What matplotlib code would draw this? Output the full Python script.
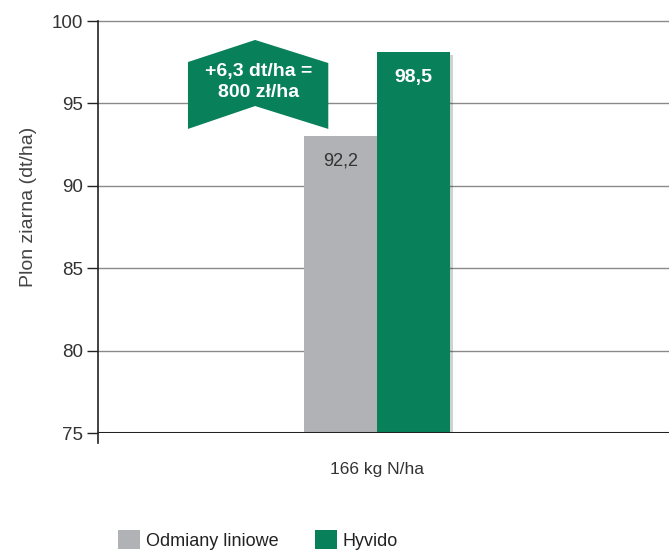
#importing libraries
import matplotlib
matplotlib.use('Agg')
import matplotlib.pyplot as plt
from matplotlib.patches import Polygon, Patch
from matplotlib import patheffects as pe

#data
categories = ['166 kg N/ha']
series_names = ['Odmiany liniowe', 'Hyvido']
bar_heights = [93.0, 98.1]
value_labels = ['92,2', '98,5']
yticks = [75, 80, 85, 90, 95, 100]
gain_text = '+6,3 dt/ha =\n800 zł/ha'

colors = ['#b1b2b5', '#08805a']
label_colors = ['#333333', 'white']
label_weights = ['normal', 'bold']
label_sizes = [13, 14]

plt.rcParams['font.family'] = ['Liberation Sans', 'DejaVu Sans']

fig = plt.figure(figsize=(6.69, 5.52), dpi=100)
ax = fig.add_axes([98 / 669, 1 - 433 / 552, 571 / 669, 412 / 552])

base = 75
width = 0.4
offsets = [-width / 2, width / 2]
for i in range(len(series_names)):
    bars = ax.bar(0 + offsets[i], bar_heights[i] - base, width=width, bottom=base,
                  color=colors[i], zorder=3)
    for b in bars:
        b.set_path_effects([pe.SimplePatchShadow(offset=(2, -2), alpha=0.2), pe.Normal()])
        ax.annotate(value_labels[i], (b.get_x() + b.get_width() / 2, b.get_y() + b.get_height()),
                    xytext=(0, -18), textcoords='offset points', ha='center', va='center',
                    fontsize=label_sizes[i], color=label_colors[i],
                    fontweight=label_weights[i], zorder=4)

ax.set_xlim(-1.529, 1.600)
ax.set_ylim(75, 100)
ax.set_yticks(yticks)
ax.set_xticks([0])
ax.set_xticklabels(categories)
ax.tick_params(axis='x', length=0, pad=21, labelsize=12.5, labelcolor='#333333')
ax.tick_params(axis='y', length=8, width=1, color='#222222', labelsize=13.5,
               labelcolor='#333333', pad=3)
ax.set_ylabel('Plon ziarna (dt/ha)', fontsize=14, color='#444444')
ax.yaxis.set_label_coords(-0.107, 0.549)

for v in yticks[1:]:
    ax.axhline(v, color='#8a8a8a', lw=1, zorder=1, clip_on=False)
ax.axhline(75, color='#222222', lw=2.2, zorder=5)

for s in ['top', 'right', 'bottom']:
    ax.spines[s].set_visible(False)
ax.spines['left'].set_color('#222222')
ax.spines['left'].set_linewidth(1.2)
ax.spines['left'].set_bounds(74.4, 100)

#arrow-like badge with the gain
xl, xm, xr = -1.036, -0.668, -0.267
badge = Polygon([(xl, 93.45), (xl, 97.51), (xm, 98.85), (xr, 97.45),
                 (xr, 93.45), (xm, 94.84)], closed=True,
                facecolor='#08805a', edgecolor='none', zorder=4)
ax.add_patch(badge)
ax.text(xm + 0.02, 96.3, gain_text, ha='center', va='center', fontsize=14,
        fontweight='bold', color='white', linespacing=1.25, zorder=5)

handles = [Patch(facecolor=c, edgecolor='none') for c in colors]
ax.legend(handles, series_names, loc='center left', bbox_to_anchor=(102 / 669, 1 - 540 / 552),
          bbox_transform=fig.transFigure, ncol=2, frameon=False, fontsize=13,
          handlelength=1.2, handleheight=1.2, handletextpad=0.35, columnspacing=2.0,
          labelcolor='#222222')

plt.savefig('out.png', dpi=100)
